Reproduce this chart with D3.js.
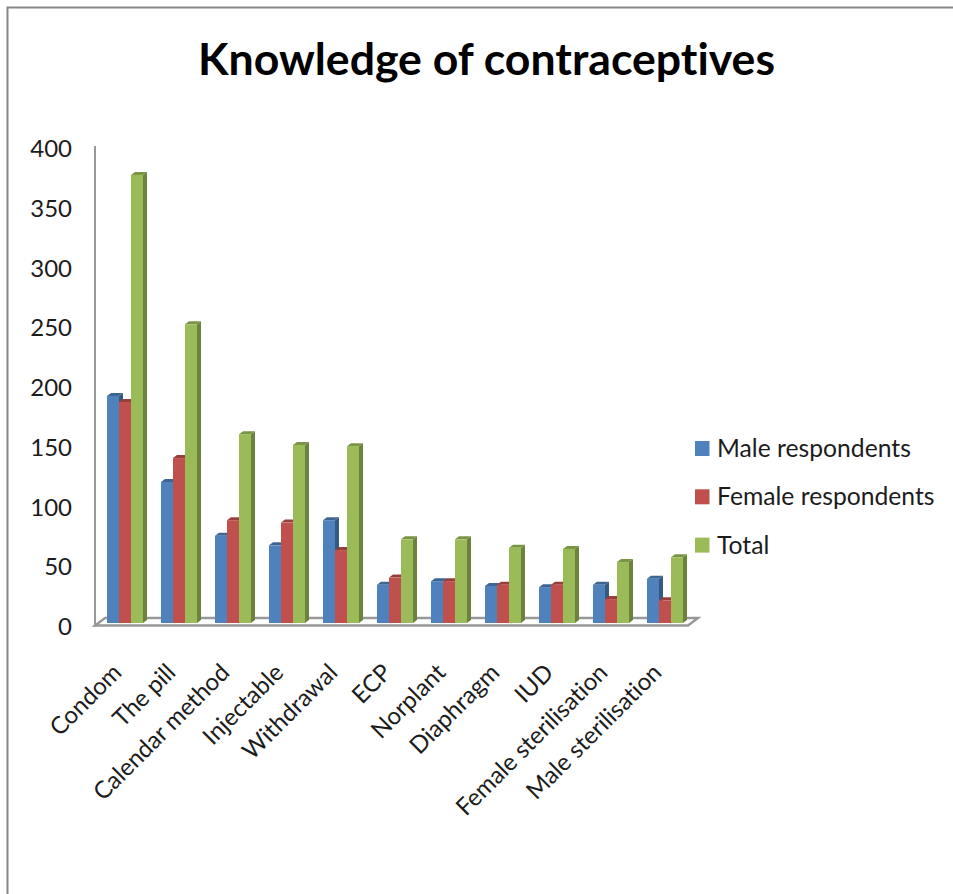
<!DOCTYPE html>
<html>
<head>
<meta charset="utf-8">
<script src="https://cdn.jsdelivr.net/npm/d3@7/dist/d3.min.js"></script>
<style>
html,body{margin:0;padding:0;background:#fff}
svg{display:block}
text{font-family:Lato,"Open Sans",sans-serif;fill:#1c1c1c;font-variant-ligatures:none}
</style>
</head>
<body>
<svg id="chart" width="953" height="894"></svg>
<script>
const categories = ["Condom","The pill","Calendar method","Injectable","Withdrawal","ECP","Norplant","Diaphragm","IUD","Female sterilisation","Male sterilisation"];
const seriesNames = ["Male respondents","Female respondents","Total"];
const maleValues = [190,118,73,65,86,32,35,31,30,32,37];
const femaleValues = [185,138,86,84,61,38,35,32,32,20,19];
const totalValues = [375,250,158,149,148,70,70,63,62,51,55];
const yTicks = [0,50,100,150,200,250,300,350,400];

const seriesValues = [maleValues,femaleValues,totalValues];
const faceColors = ["#4f81bd","#c0504d","#9bbb59"];
const sideColors = ["#36597f","#8a3937","#6c8340"];
const topColors = ["#3d6594","#973f3d","#7a9446"];

const svg = d3.select("#chart");

// Chart frame: only the top and left edges fall inside the page
svg.append("path").attr("d","M7.5,894V7.5H953").attr("fill","none").attr("stroke","#868686").attr("stroke-width",2);

svg.append("text").attr("x",486.5).attr("y",75).attr("text-anchor","middle")
  .attr("font-size",44.6).attr("font-weight",700).style("fill","#000").text("Knowledge of contraceptives");

const y = d3.scaleLinear().domain([0,400]).range([623,145]);
const x = d3.scaleBand().domain(categories).range([98,692]).paddingInner(1/3).paddingOuter(1/6);
const xSeries = d3.scaleBand().domain(seriesNames).range([0,x.bandwidth()]);

// Oblique depth of the floor and of each column
const floorDx = 10, floorDy = 7.5;
const barDx = 4, barDy = 3;

// Floor plate and wall spine
const floorLeft = 95, floorRight = 688, floorY = 625.5;
svg.append("path")
  .attr("d",`M${floorLeft},${floorY}H${floorRight}L${floorRight+floorDx},${floorY-floorDy}H${floorLeft+floorDx}Z`)
  .attr("fill","#fff").attr("stroke","#979797").attr("stroke-width",2.4);
svg.append("line").attr("x1",floorLeft).attr("x2",floorLeft).attr("y1",146).attr("y2",floorY+1)
  .attr("stroke","#979797").attr("stroke-width",2);

// Value axis: labels only, the spine is drawn above
const yAxis = d3.axisLeft(y).tickValues(yTicks).tickSize(0).tickPadding(0);
const yG = svg.append("g").attr("transform","translate(72,4)").call(yAxis);
yG.select(".domain").remove();
yG.selectAll("text").attr("font-size",24);

// Columns, drawn left to right so each face overlaps the previous side
const groups = svg.append("g").selectAll("g").data(categories).join("g")
  .attr("transform",c=>`translate(${x(c)},0)`);
seriesNames.forEach((name,s)=>{
  const w = xSeries.bandwidth(), bx = xSeries(name);
  const g = groups.append("g");
  const val = (c)=>seriesValues[s][categories.indexOf(c)];
  g.append("path").attr("fill",sideColors[s])
    .attr("d",c=>`M${bx+w},${y(val(c))}l${barDx},${-barDy}V${y(0)-barDy}l${-barDx},${barDy}Z`);
  g.append("path").attr("fill",topColors[s])
    .attr("d",c=>`M${bx},${y(val(c))}l${barDx},${-barDy}h${w}l${-barDx},${barDy}Z`);
  g.append("rect").attr("fill",faceColors[s]).attr("x",bx).attr("width",w)
    .attr("y",c=>y(val(c))).attr("height",c=>y(0)-y(val(c)));
});

// Category labels, slanted and ending under their group
const xAxis = d3.axisBottom(x).tickSize(0).tickPadding(0);
const xG = svg.append("g").attr("transform","translate(0,623)").call(xAxis);
xG.select(".domain").remove();
xG.selectAll("text")
  .attr("font-size",24)
  .attr("text-anchor","end")
  .attr("dy",0)
  .attr("transform","translate(-2,51) rotate(-45)");

// Legend
const legend = svg.append("g").selectAll("g").data(seriesNames).join("g")
  .attr("transform",(d,i)=>`translate(695,${441+i*48.3})`);
legend.append("rect").attr("width",14.5).attr("height",15).attr("fill",(d,i)=>faceColors[i]);
legend.append("text").attr("x",22).attr("y",16).attr("font-size",24.7).text(d=>d);
</script>
</body>
</html>
